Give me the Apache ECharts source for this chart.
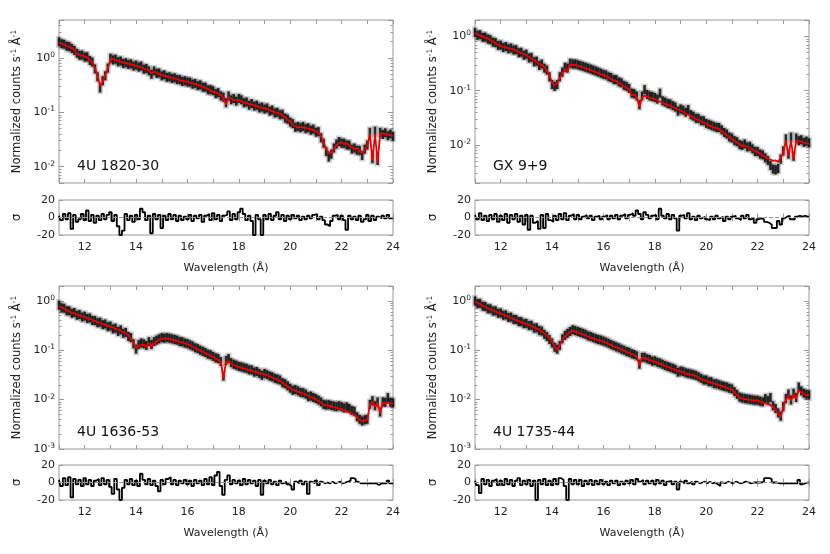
<!DOCTYPE html>
<html><head><meta charset="utf-8">
<script src="https://cdn.jsdelivr.net/npm/echarts@6/dist/echarts.min.js"></script>
<style>html,body{margin:0;padding:0;background:#fff}#c{width:830px;height:554px}</style>
</head><body><div id="c"></div>
<script>
const wavelength = [11.0,11.1,11.2,11.3,11.4,11.5,11.6,11.7,11.8,11.9,
12.0,12.1,12.2,12.3,12.4,12.5,12.6,12.7,12.8,12.9,
13.0,13.1,13.2,13.3,13.4,13.5,13.6,13.7,13.8,13.9,
14.0,14.1,14.2,14.3,14.4,14.5,14.6,14.7,14.8,14.9,
15.0,15.1,15.2,15.3,15.4,15.5,15.6,15.7,15.8,15.9,
16.0,16.1,16.2,16.3,16.4,16.5,16.6,16.7,16.8,16.9,
17.0,17.1,17.2,17.3,17.4,17.5,17.6,17.7,17.8,17.9,
18.0,18.1,18.2,18.3,18.4,18.5,18.6,18.7,18.8,18.9,
19.0,19.1,19.2,19.3,19.4,19.5,19.6,19.7,19.8,19.9,
20.0,20.1,20.2,20.3,20.4,20.5,20.6,20.7,20.8,20.9,
21.0,21.1,21.2,21.3,21.4,21.5,21.6,21.7,21.8,21.9,
22.0,22.1,22.2,22.3,22.4,22.5,22.6,22.7,22.8,22.9,
23.0,23.1,23.2,23.3,23.4,23.5,23.6,23.7,23.8,23.9,24.0];

// ---- 4U 1820-30 ----
const flux1820 = [1.98,1.83,1.79,1.65,1.62,1.50,1.38,1.22,1.12,1.13,
1.04,1.05,0.90,0.84,0.63,0.45,0.28,0.38,0.47,0.65,
0.99,0.92,0.95,0.85,0.88,0.79,0.82,0.76,0.78,0.71,
0.74,0.68,0.71,0.62,0.64,0.58,0.50,0.58,0.52,0.53,
0.47,0.49,0.44,0.45,0.42,0.43,0.40,0.40,0.37,0.38,
0.36,0.36,0.33,0.34,0.31,0.32,0.29,0.29,0.26,0.26,
0.25,0.22,0.23,0.20,0.19,0.15,0.20,0.17,0.18,0.16,
0.18,0.17,0.15,0.155,0.135,0.145,0.13,0.135,0.12,0.125,
0.115,0.12,0.105,0.11,0.097,0.10,0.09,0.092,0.078,0.075,
0.066,0.062,0.053,0.055,0.052,0.055,0.050,0.052,0.047,0.049,
0.043,0.044,0.034,0.027,0.019,0.015,0.017,0.022,0.026,0.029,
0.027,0.027,0.025,0.025,0.021,0.022,0.020,0.020,0.016,0.021,
0.025,0.043,0.014,0.045,0.013,0.043,0.039,0.042,0.037,0.040,0.036];
const model1820 = [1.94,1.85,1.76,1.68,1.60,1.52,1.42,1.18,1.15,1.10,
1.07,1.02,0.93,0.82,0.66,0.47,0.31,0.36,0.49,0.62,
0.97,0.95,0.92,0.89,0.86,0.82,0.80,0.78,0.76,0.74,
0.72,0.70,0.67,0.64,0.62,0.60,0.52,0.56,0.54,0.51,
0.49,0.47,0.46,0.44,0.43,0.42,0.41,0.39,0.38,0.37,
0.37,0.35,0.34,0.33,0.32,0.31,0.30,0.28,0.27,0.25,
0.24,0.23,0.22,0.21,0.18,0.14,0.19,0.18,0.17,0.17,
0.17,0.16,0.15,0.15,0.14,0.14,0.135,0.13,0.125,0.12,
0.12,0.115,0.11,0.105,0.10,0.098,0.094,0.088,0.08,0.073,
0.068,0.06,0.055,0.053,0.054,0.053,0.052,0.05,0.049,0.047,
0.045,0.042,0.036,0.028,0.021,0.018,0.018,0.021,0.025,0.027,
0.028,0.026,0.027,0.024,0.023,0.021,0.022,0.019,0.018,0.02,
0.024,0.04,0.013,0.04,0.012,0.04,0.041,0.04,0.039,0.038,0.037];
const resid1820 = [2,-3,4,-2,5,-13,3,-5,-2,4,
-3,8,-4,3,-6,2,-3,4,-2,3,
6,-4,3,-10,-20,-15,4,-3,2,-5,
3,-2,10,6,-3,2,-18,4,-2,3,
-12,2,-3,4,-2,3,-4,2,-3,1,
-2,3,-4,2,-1,3,-5,2,4,-3,
5,-2,3,-4,2,3,7,-3,4,-2,
6,10,4,-3,2,-4,-20,3,-2,-20,
3,-2,4,-3,2,6,-2,3,-4,2,
-2,3,-1,2,-3,1,-2,2,-1,3,
4,-2,1,-3,-8,-10,-4,2,3,-2,
2,-3,-14,2,-2,1,-3,2,-5,-2,
3,-4,2,-3,1,-1,2,-1,3,-1,0];

// ---- GX 9+9 ----
const fluxGX99 = [1.18,1.05,1.07,0.96,0.97,0.89,0.87,0.78,0.77,0.68,
0.69,0.62,0.65,0.59,0.61,0.56,0.57,0.50,0.51,0.45,
0.47,0.40,0.41,0.34,0.35,0.29,0.31,0.26,0.24,0.18,
0.13,0.12,0.13,0.18,0.22,0.27,0.26,0.32,0.31,0.31,
0.30,0.29,0.28,0.27,0.26,0.25,0.24,0.23,0.22,0.21,
0.20,0.195,0.18,0.175,0.16,0.16,0.145,0.14,0.125,0.12,
0.11,0.09,0.088,0.08,0.055,0.08,0.105,0.085,0.08,0.078,
0.075,0.07,0.09,0.065,0.062,0.058,0.057,0.053,0.05,0.042,
0.046,0.044,0.04,0.045,0.036,0.034,0.031,0.031,0.028,0.028,
0.025,0.024,0.023,0.022,0.021,0.021,0.019,0.017,0.016,0.014,
0.0135,0.012,0.0115,0.0102,0.0098,0.0105,0.0092,0.0095,0.0085,0.0076,
0.0076,0.0068,0.0066,0.0058,0.0052,0.0042,0.0036,0.0035,0.0037,0.0055,
0.0078,0.013,0.0068,0.014,0.0062,0.0135,0.012,0.0125,0.0112,0.0118,0.011];
const modelGX99 = [1.15,1.09,1.04,0.99,0.95,0.92,0.85,0.80,0.75,0.70,
0.67,0.64,0.63,0.61,0.59,0.58,0.55,0.52,0.49,0.47,
0.45,0.42,0.39,0.36,0.34,0.31,0.30,0.27,0.23,0.19,
0.14,0.125,0.14,0.17,0.21,0.25,0.23,0.30,0.30,0.295,
0.29,0.28,0.27,0.26,0.25,0.24,0.23,0.22,0.21,0.20,
0.195,0.185,0.175,0.165,0.155,0.15,0.14,0.13,0.12,0.113,
0.107,0.082,0.085,0.075,0.05,0.075,0.081,0.078,0.074,0.072,
0.07,0.066,0.063,0.06,0.057,0.055,0.053,0.05,0.047,0.045,
0.043,0.041,0.038,0.036,0.034,0.032,0.030,0.029,0.027,0.026,
0.0245,0.023,0.022,0.021,0.0205,0.0197,0.018,0.0165,0.0152,0.014,
0.0129,0.0118,0.011,0.0105,0.0095,0.0098,0.0093,0.0088,0.0082,0.0078,
0.0074,0.0069,0.0064,0.006,0.0057,0.0054,0.0051,0.0052,0.0049,0.0058,
0.0074,0.012,0.0064,0.012,0.0055,0.012,0.0118,0.0115,0.011,0.0107,0.0105];
const residGX99 = [3,-2,5,-3,2,-4,3,-2,4,-5,
2,-3,4,-6,3,-2,4,-5,2,-8,
3,-14,2,-6,-4,-13,3,-12,4,-3,
-5,2,-3,4,-2,5,-3,2,4,-2,
3,-2,1,3,-1,2,-3,1,2,-2,
1,3,-2,2,-1,3,-2,2,4,-1,
3,5,2,8,4,-2,6,3,-1,2,
3,-2,10,2,-1,4,-2,3,-1,-15,
2,3,-1,5,-2,1,-3,2,-1,1,
-2,-3,1,-2,2,-1,1,-4,1,-2,
1,2,-1,-3,2,-1,3,-2,-1,-6,
-2,-1,-2,-5,-6,-8,-12,-12,-4,-8,
-1,1,2,-2,-2,1,2,1,2,1,1];

// ---- 4U 1636-53 ----
const flux1636 = [0.82,0.72,0.71,0.63,0.63,0.56,0.58,0.51,0.53,0.47,
0.49,0.44,0.45,0.40,0.40,0.36,0.37,0.33,0.34,0.30,
0.31,0.27,0.28,0.24,0.26,0.22,0.23,0.19,0.18,0.135,
0.105,0.13,0.14,0.135,0.125,0.15,0.13,0.15,0.16,0.17,
0.18,0.175,0.18,0.175,0.17,0.165,0.16,0.15,0.148,0.14,
0.136,0.128,0.122,0.112,0.108,0.10,0.095,0.09,0.083,0.081,
0.075,0.07,0.068,0.059,0.03,0.062,0.068,0.056,0.052,0.05,
0.047,0.046,0.044,0.043,0.040,0.040,0.036,0.037,0.034,0.031,
0.034,0.032,0.030,0.029,0.027,0.026,0.025,0.022,0.021,0.019,
0.017,0.0155,0.016,0.015,0.014,0.0138,0.013,0.0115,0.0118,0.011,
0.0105,0.0098,0.009,0.008,0.0078,0.0079,0.0076,0.0074,0.0072,0.0075,
0.0072,0.0068,0.0071,0.0066,0.006,0.0058,0.0045,0.004,0.0037,0.0039,
0.004,0.008,0.0095,0.0075,0.009,0.0056,0.009,0.0088,0.011,0.0088,0.0086];
const model1636 = [0.79,0.74,0.69,0.65,0.61,0.58,0.56,0.53,0.51,0.49,
0.47,0.45,0.43,0.41,0.39,0.37,0.36,0.34,0.33,0.31,
0.30,0.29,0.27,0.26,0.25,0.23,0.22,0.20,0.175,0.14,
0.11,0.125,0.125,0.13,0.115,0.14,0.12,0.14,0.15,0.165,
0.17,0.172,0.172,0.17,0.165,0.16,0.155,0.148,0.142,0.137,
0.133,0.126,0.118,0.111,0.104,0.098,0.093,0.087,0.082,0.078,
0.074,0.068,0.063,0.058,0.027,0.058,0.060,0.054,0.050,0.048,
0.046,0.044,0.043,0.041,0.040,0.0385,0.037,0.036,0.0345,0.0335,
0.0325,0.031,0.0295,0.028,0.0268,0.0255,0.024,0.022,0.020,0.0185,
0.017,0.016,0.0152,0.0145,0.0139,0.0133,0.0127,0.012,0.0113,0.0107,
0.0102,0.0095,0.0087,0.0078,0.0077,0.0076,0.0074,0.0071,0.0069,0.0066,
0.0064,0.0061,0.0058,0.0055,0.0052,0.0049,0.0044,0.0039,0.0037,0.0038,
0.0039,0.0078,0.0091,0.0072,0.0087,0.0053,0.0087,0.0084,0.0086,0.0084,0.0084];
const resid1636 = [3,-4,5,-3,6,-17,4,-2,3,-4,
5,-2,3,-4,2,4,-3,5,-2,3,
-5,-13,4,-8,-20,-6,3,-2,4,-3,
2,-4,10,3,-2,4,-3,2,-4,-10,
3,-2,4,6,-2,3,-3,2,-1,3,
-2,2,-4,3,-1,2,-3,4,-2,6,
-3,8,12,-4,-14,3,8,-2,3,-1,
2,-3,4,-2,3,-1,2,-4,3,-14,
2,-1,3,-2,1,-3,2,-1,1,-2,
-4,-8,1,-1,2,-2,1,-13,1,-1,
2,-3,1,-1,0,-1,1,-1,0,1,
-1,0,1,2,5,4,1,-1,-1,-1,
-1,-1,-1,-1,-3,-1,-1,-1,2,-1,-1];

// ---- 4U 1735-44 ----
const flux1735 = [1.0,0.88,0.89,0.78,0.77,0.69,0.69,0.62,0.63,0.56,
0.57,0.51,0.52,0.46,0.47,0.42,0.42,0.38,0.38,0.345,
0.35,0.315,0.32,0.28,0.285,0.25,0.245,0.21,0.19,0.165,
0.14,0.115,0.105,0.125,0.17,0.2,0.22,0.24,0.26,0.25,
0.24,0.23,0.22,0.21,0.195,0.19,0.18,0.172,0.165,0.16,
0.153,0.146,0.138,0.13,0.124,0.117,0.112,0.105,0.10,0.094,
0.091,0.085,0.082,0.077,0.052,0.072,0.072,0.067,0.065,0.06,
0.061,0.057,0.055,0.052,0.049,0.047,0.045,0.043,0.041,0.036,
0.038,0.037,0.035,0.034,0.033,0.032,0.031,0.029,0.027,0.025,
0.025,0.023,0.023,0.021,0.021,0.02,0.0192,0.0185,0.018,0.017,
0.0165,0.0145,0.0128,0.0112,0.0108,0.0105,0.0103,0.0101,0.0099,0.0097,
0.0097,0.0093,0.009,0.0105,0.0095,0.011,0.0075,0.0066,0.0054,0.0046,
0.0072,0.0105,0.013,0.0098,0.0135,0.011,0.018,0.015,0.0135,0.0128,0.0125];
const model1735 = [0.97,0.91,0.86,0.80,0.75,0.71,0.67,0.64,0.61,0.58,
0.55,0.53,0.50,0.48,0.45,0.43,0.41,0.39,0.37,0.355,
0.34,0.325,0.31,0.29,0.275,0.26,0.24,0.22,0.20,0.175,
0.15,0.12,0.10,0.13,0.16,0.19,0.21,0.23,0.25,0.24,
0.23,0.22,0.21,0.20,0.19,0.18,0.174,0.167,0.16,0.155,
0.15,0.142,0.134,0.127,0.12,0.115,0.109,0.103,0.098,0.093,
0.089,0.084,0.079,0.075,0.05,0.07,0.069,0.066,0.063,0.061,
0.059,0.056,0.054,0.051,0.048,0.046,0.044,0.042,0.040,0.038,
0.037,0.036,0.034,0.033,0.032,0.0315,0.030,0.028,0.026,0.025,
0.024,0.023,0.022,0.021,0.0205,0.0197,0.019,0.0182,0.0175,0.0168,
0.0162,0.014,0.0124,0.011,0.0105,0.0103,0.0101,0.0099,0.0097,0.0096,
0.0095,0.0091,0.0088,0.0085,0.0081,0.0078,0.0071,0.0062,0.0052,0.0045,
0.007,0.0098,0.0124,0.0095,0.013,0.0105,0.0157,0.014,0.013,0.0124,0.0124];
const resid1735 = [2,-3,-12,4,-2,3,-4,2,4,-3,
2,-3,4,-2,3,-4,2,5,-3,2,
-2,3,-4,2,-20,3,-2,4,-3,2,
-3,4,-2,5,3,-4,-20,4,-2,3,
-2,3,-4,2,-2,3,-3,2,-2,3,
-2,1,-3,2,-1,2,-3,1,-2,2,
-1,3,-2,4,1,3,-2,2,-1,2,
-2,3,-1,2,-3,1,2,-2,1,-8,
1,-1,2,-1,1,-2,1,-1,0,1,
-1,1,-1,0,-2,-4,0,-1,1,0,
-1,1,0,-1,0,1,0,-1,0,0,
0,0,1,5,5,4,0,0,-1,-1,
-1,-1,-1,-1,-1,-1,3,-2,-1,0,0];

const sourceNames = ['4U 1820-30', 'GX 9+9', '4U 1636-53', '4U 1735-44'];
const fluxes = [flux1820, fluxGX99, flux1636, flux1735];
const models = [model1820, modelGX99, model1636, model1735];
const resids = [resid1820, residGX99, resid1636, resid1735];
const yMins = [0.005, 0.002, 0.001, 0.001];
const yMaxs = [5, 2, 2, 2];
const xTickLabels = [12, 14, 16, 18, 20, 22, 24];

const FONT = 'DejaVu Sans';
const GRAY = '#999';
const colLeft = [59, 475], plotW = 334;
const mainTop = [20, 286], mainH = 163, resTop = [200, 465], resH = 35;
const supRich = {
  b: {fontSize: 11, fontFamily: FONT, color: '#222'},
  s: {fontSize: 7.5, fontFamily: FONT, color: '#222', verticalAlign: 'top', padding: [0,0,6,0]}
};
const grids = [], xAxes = [], yAxes = [], series = [], graphics = [];

function pair(arr) { return wavelength.map((w, i) => [w, arr[i]]); }

function xAxisDef(gi, pos, labels, name) {
  return {
    type: 'value', gridIndex: gi, position: pos, min: 11, max: 24, interval: 1,
    axisLine: {show: false}, splitLine: {show: false},
    axisTick: {show: true, inside: true, length: 4, lineStyle: {color: GRAY}},
    axisLabel: {show: labels, margin: 7, fontSize: 11, fontFamily: FONT, color: '#222',
      formatter: v => (xTickLabels.indexOf(v) >= 0 ? String(v) : '')},
    name: name || '', nameLocation: 'middle', nameGap: 28,
    nameTextStyle: {fontSize: 11, fontFamily: FONT, color: '#222'}
  };
}

function logLabel(v) {
  const e = Math.log10(v);
  if (Math.abs(e - Math.round(e)) > 1e-6) return '';
  return '{b|10}{s|' + Math.round(e) + '}';
}

for (let p = 0; p < 4; p++) {
  const col = p % 2, row = Math.floor(p / 2);
  const gMain = grids.length;
  grids.push({left: colLeft[col], width: plotW, top: mainTop[row], height: mainH,
    show: true, borderColor: GRAY, borderWidth: 1, backgroundColor: 'transparent', containLabel: false});
  const gRes = grids.length;
  grids.push({left: colLeft[col], width: plotW, top: resTop[row], height: resH,
    show: true, borderColor: GRAY, borderWidth: 1, backgroundColor: 'transparent', containLabel: false});

  const xm = xAxes.length;
  xAxes.push(xAxisDef(gMain, 'bottom', false));
  xAxes.push(xAxisDef(gMain, 'top', false));
  const xr = xAxes.length;
  xAxes.push(xAxisDef(gRes, 'bottom', true, 'Wavelength (Å)'));
  xAxes.push(xAxisDef(gRes, 'top', false));

  const ym = yAxes.length;
  for (const pos of ['left', 'right']) {
    yAxes.push({
      type: 'log', logBase: 10, gridIndex: gMain, position: pos, min: yMins[p], max: yMaxs[p],
      axisLine: {show: false}, splitLine: {show: false},
      axisTick: {show: true, inside: true, length: 5, lineStyle: {color: GRAY}},
      minorTick: {show: true, splitNumber: 9, length: 2.5, lineStyle: {color: GRAY}},
      axisLabel: {show: pos === 'left', margin: 4, formatter: logLabel, rich: supRich},
      name: pos === 'left' ? 'Normalized counts s{s|-1} Å{s|-1}' : '',
      nameLocation: 'middle', nameGap: 35,
      nameTextStyle: {fontSize: 11.5, fontFamily: FONT, color: '#222',
        rich: {s: {fontSize: 7.5, fontFamily: FONT, color: '#222', verticalAlign: 'top', padding: [0,0,6,0]}}}
    });
  }
  const yr = yAxes.length;
  for (const pos of ['left', 'right']) {
    yAxes.push({
      type: 'value', gridIndex: gRes, position: pos, min: -20, max: 20, interval: 20,
      axisLine: {show: false}, splitLine: {show: false},
      axisTick: {show: true, inside: true, length: 4, lineStyle: {color: GRAY}},
      axisLabel: {show: pos === 'left', margin: 4, fontSize: 11, fontFamily: FONT, color: '#222'},
      name: pos === 'left' ? 'σ' : '', nameLocation: 'middle', nameGap: 36,
      nameTextStyle: {fontSize: 12, fontFamily: FONT, color: '#222'}
    });
  }

  series.push({type: 'scatter', xAxisIndex: xm, yAxisIndex: ym, data: pair(fluxes[p]),
    symbol: 'rect', symbolSize: [6, 12], itemStyle: {color: 'rgba(0,0,0,0.22)'}, silent: true, z: 2});
  series.push({type: 'scatter', xAxisIndex: xm, yAxisIndex: ym, data: pair(fluxes[p]),
    symbol: 'rect', symbolSize: [2.6, 9], itemStyle: {color: '#000'}, silent: true, z: 3});
  series.push({type: 'line', xAxisIndex: xm, yAxisIndex: ym, data: pair(models[p]),
    showSymbol: false, lineStyle: {color: '#ee0000', width: 1.8}, z: 4, silent: true});
  series.push({type: 'line', xAxisIndex: xr, yAxisIndex: yr, data: pair(resids[p]), step: 'middle',
    showSymbol: false, lineStyle: {color: '#000', width: 1.8}, z: 3, silent: true,
    markLine: {silent: true, symbol: 'none', label: {show: false},
      lineStyle: {color: GRAY, type: 'dashed', width: 1}, data: [{yAxis: 0}]}});

  graphics.push({type: 'text', left: colLeft[col] + 18, top: mainTop[row] + mainH - 24,
    style: {text: sourceNames[p], fontSize: 14, fontFamily: FONT, fill: '#111'}});
}

const chart = echarts.init(document.getElementById('c'), null, {renderer: 'canvas'});
chart.setOption({
  animation: false, backgroundColor: '#fff',
  grid: grids, xAxis: xAxes, yAxis: yAxes, series: series, graphic: graphics
});
</script></body></html>
